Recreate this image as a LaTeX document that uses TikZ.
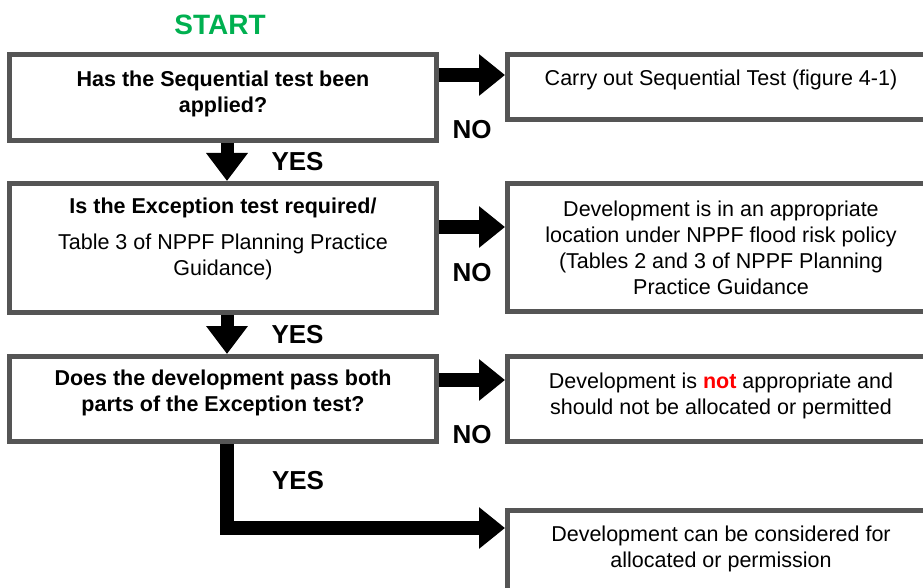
\documentclass[tikz,border=0pt]{standalone}
\usepackage{fontspec}
\setmainfont{Liberation Sans}
\usetikzlibrary{arrows.meta,positioning}

\definecolor{startgreen}{RGB}{0,176,80}
\newcommand{\lowpad}[1]{\rule[-#1]{0pt}{#1}}

\begin{document}
\begin{tikzpicture}[x=1pt,y=1pt,node distance=38pt,
  font=\fontsize{21.5}{26}\selectfont]
  \tikzstyle{box}=[draw={rgb:black,2;white,1}, line width=5pt, fill=white,
    align=center, minimum width=427pt, inner sep=0pt]
  \tikzstyle{bold}=[font=\fontsize{21.5}{26}\selectfont\bfseries]
  \tikzstyle{fat}=[line width=14pt, -{Triangle[width=40pt,length=26pt]}]
  \tikzstyle{down}=[line width=13pt, -{Triangle[width=40pt,length=28pt]}]
  \tikzstyle{tag}=[font=\fontsize{26}{26}\selectfont\bfseries, inner sep=0pt]

  \useasboundingbox (0,0) rectangle (923,-588);
  \clip (0,0) rectangle (923,-588);

  % questions
  \node[box,bold,minimum height=86pt] (a) at (223,-97.5)
    {Has the Sequential test been\\applied?\lowpad{11pt}};
  \node[box,minimum height=129pt] (b) [below=38pt of a]
    {\textbf{Is the Exception test required/}\\[10pt]
     Table 3 of NPPF Planning Practice\\Guidance)\lowpad{22pt}};
  \node[box,bold,minimum height=85pt] (c) [below=39pt of b]
    {Does the development pass both\\parts of the Exception test?\lowpad{16pt}};

  % outcomes
  \node[box,minimum height=65pt] (d) [right=66pt of a.north east,anchor=north west]
    {Carry out Sequential Test (figure 4-1)\lowpad{18pt}};
  \node[box,minimum height=128pt] (e) [right=66pt of b.north east,anchor=north west]
    {Development is in an appropriate\\location under NPPF flood risk policy\\
     (Tables 2 and 3 of NPPF Planning\\Practice Guidance};
  \node[box,minimum height=85pt] (f) [right=66pt of c.north east,anchor=north west]
    {Development is \textcolor{red}{\textbf{not}} appropriate and\\
     should not be allocated or permitted\lowpad{10pt}};
  \node[box,minimum height=100pt] (g) [below=64pt of f]
    {Development can be considered for\\allocated or permission\lowpad{28pt}};

  \node[tag,font=\fontsize{28}{28}\selectfont\bfseries,text=startgreen,xshift=-3pt] (s) [above=17pt of a] {START};

  \path[fat]
  ([yshift=-23pt]a.north east) edge node[tag,below=38pt] {NO} ([yshift=-23pt]a.north east -| d.west)
  ([yshift=-46pt]b.north east) edge node[tag,below=29pt] {NO} ([yshift=-46pt]b.north east -| e.west)
  ([yshift=-26pt]c.north east) edge node[tag,below=38pt] {NO} ([yshift=-26pt]c.north east -| f.west);

  \path[down]
  ([xshift=4pt]a.south) edge node[tag,right=38pt] {YES} ([xshift=4pt]b.north)
  ([xshift=4pt]b.south) edge node[tag,right=38pt] {YES} ([xshift=4pt]c.north);

  \draw[fat] ([xshift=4pt]c.south) |- node[tag,pos=.22,right=38pt] {YES}
    ([yshift=-20pt]g.north west);
\end{tikzpicture}
\end{document}
